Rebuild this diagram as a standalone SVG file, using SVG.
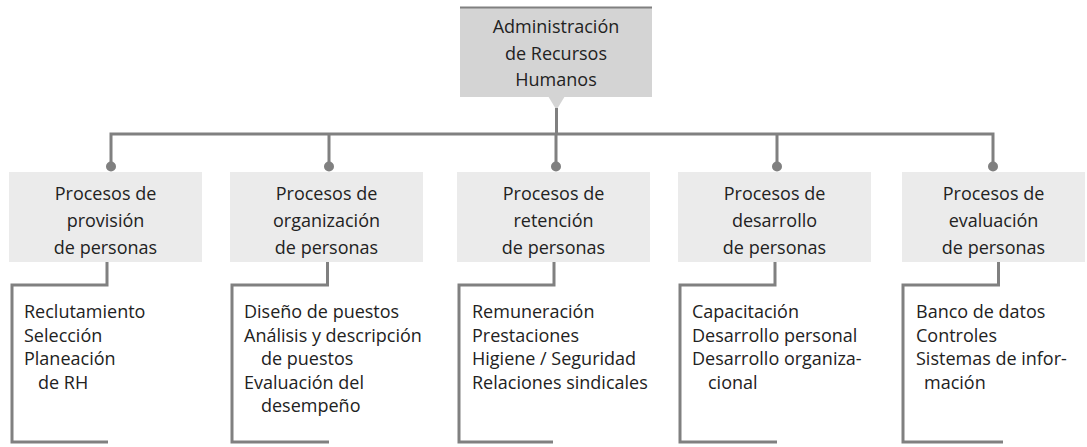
<svg xmlns="http://www.w3.org/2000/svg" width="1087" height="447" viewBox="0 0 1087 447">
<style>
text{font-family:"Open Sans","Liberation Sans",sans-serif;font-size:18px;fill:#222}
.c{text-anchor:middle}
.ln{fill:none;stroke:#808080;stroke-width:3}
.hdr{fill:#ebebeb}
.top{fill:#d4d4d4}
.dot{fill:#808080}
</style>
<rect width="1087" height="447" fill="#fff"/>
<g id="connectors">
<polygon points="548,96 565,96 556.5,110" fill="#d4d4d4"/>
<path class="ln" d="M556.5 108 V134 M111 166 V134 H993 V166 M329 134 V166 M556 134 V166 M777 134 V166"/>
<circle class="dot" cx="111" cy="166.5" r="5"/>
<circle class="dot" cx="329" cy="166.5" r="5"/>
<circle class="dot" cx="556" cy="166.5" r="5"/>
<circle class="dot" cx="777" cy="166.5" r="5"/>
<circle class="dot" cx="993" cy="166.5" r="5"/>
<path class="ln" d="M107 262 V285 H12 V442 H108"/>
<path class="ln" d="M327.5 262 V285 H232 V442 H329"/>
<path class="ln" d="M554 262 V285 H459 V442 H553"/>
<path class="ln" d="M775 262 V285 H680 V442 H777"/>
<path class="ln" d="M998.5 262 V285 H903 V442 H1003"/>
</g>
<g id="root">
<rect class="top" x="460" y="7" width="192" height="90"/>
<line x1="460" y1="7.5" x2="652" y2="7.5" stroke="#808080" stroke-width="2"/>
<text class="c" x="556" y="33">Administración</text>
<text class="c" x="556" y="59.5">de Recursos</text>
<text class="c" x="556" y="86">Humanos</text>
</g>
<g id="provision">
<rect class="hdr" x="9" y="172" width="193" height="90"/>
<text class="c" x="105.5" y="200">Procesos de</text>
<text class="c" x="105.5" y="227">provisión</text>
<text class="c" x="105.5" y="254">de personas</text>
<text x="24" y="318">Reclutamiento</text>
<text x="24" y="341.5">Selección</text>
<text x="24" y="365">Planeación</text>
<text x="38" y="388.5">de RH</text>
</g>
<g id="organizacion">
<rect class="hdr" x="230" y="172" width="193" height="90"/>
<text class="c" x="326.5" y="200">Procesos de</text>
<text class="c" x="326.5" y="227">organización</text>
<text class="c" x="326.5" y="254">de personas</text>
<text x="244" y="318">Diseño de puestos</text>
<text x="244" y="341.5">Análisis y descripción</text>
<text x="261" y="365">de puestos</text>
<text x="244" y="388.5">Evaluación del</text>
<text x="261" y="412">desempeño</text>
</g>
<g id="retencion">
<rect class="hdr" x="457" y="172" width="193" height="90"/>
<text class="c" x="553.5" y="200">Procesos de</text>
<text class="c" x="553.5" y="227">retención</text>
<text class="c" x="553.5" y="254">de personas</text>
<text x="472" y="318">Remuneración</text>
<text x="472" y="341.5">Prestaciones</text>
<text x="472" y="365">Higiene / Seguridad</text>
<text x="472" y="388.5">Relaciones sindicales</text>
</g>
<g id="desarrollo">
<rect class="hdr" x="678" y="172" width="193" height="90"/>
<text class="c" x="774.5" y="200">Procesos de</text>
<text class="c" x="774.5" y="227">desarrollo</text>
<text class="c" x="774.5" y="254">de personas</text>
<text x="692" y="318">Capacitación</text>
<text x="692" y="341.5">Desarrollo personal</text>
<text x="692" y="365">Desarrollo organiza-</text>
<text x="708" y="388.5">cional</text>
</g>
<g id="evaluacion">
<rect class="hdr" x="902" y="172" width="183" height="90"/>
<text class="c" x="993.5" y="200">Procesos de</text>
<text class="c" x="993.5" y="227">evaluación</text>
<text class="c" x="993.5" y="254">de personas</text>
<text x="916" y="318">Banco de datos</text>
<text x="916" y="341.5">Controles</text>
<text x="916" y="365">Sistemas de infor-</text>
<text x="924" y="388.5">mación</text>
</g>
</svg>
